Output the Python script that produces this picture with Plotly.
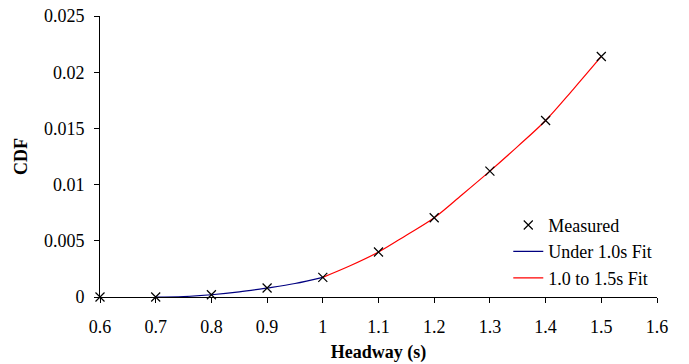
import plotly.graph_objects as go

# Measured data
headway = [0.6, 0.7, 0.8, 0.9, 1.0, 1.1, 1.2, 1.3, 1.4, 1.5]
cdf_measured = [0.0, 0.0, 0.0002, 0.0008, 0.00175, 0.0040, 0.00705, 0.0112, 0.0157, 0.0214]

# Fit curves
fit1_x = [0.7, 0.75, 0.8, 0.85, 0.9, 0.95, 1.0]
fit1_y = [0.0, 0.00004, 0.0002, 0.00045, 0.0008, 0.0012, 0.00175]
fit2_x = [1.0, 1.05, 1.1, 1.15, 1.2, 1.25, 1.3, 1.35, 1.4, 1.45, 1.5]
fit2_y = [0.00175, 0.0028, 0.0040, 0.0055, 0.00705, 0.0091, 0.0112, 0.0134, 0.0157, 0.0185, 0.0214]

x_ticks = [0.6, 0.7, 0.8, 0.9, 1.0, 1.1, 1.2, 1.3, 1.4, 1.5, 1.6]
x_tick_labels = ["0.6", "0.7", "0.8", "0.9", "1", "1.1", "1.2", "1.3", "1.4", "1.5", "1.6"]
y_ticks = [0, 0.005, 0.01, 0.015, 0.02, 0.025]
y_tick_labels = ["0", "0.005", "0.01", "0.015", "0.02", "0.025"]

FONT = "Liberation Serif, Times New Roman, serif"

fig = go.Figure()
fig.add_trace(go.Scatter(
    x=fit1_x, y=fit1_y, mode="lines", name="Under 1.0s Fit",
    line=dict(color="#000080", width=1.2, shape="spline"), legendrank=2,
))
fig.add_trace(go.Scatter(
    x=fit2_x, y=fit2_y, mode="lines", name="1.0 to 1.5s Fit",
    line=dict(color="#FF0000", width=1.2, shape="spline"), legendrank=3,
))
fig.add_trace(go.Scatter(
    x=headway, y=cdf_measured, mode="markers", name="Measured",
    marker=dict(symbol="x-thin", size=9, line=dict(color="black", width=1.2), color="black"),
    cliponaxis=False, legendrank=1,
))

fig.update_layout(
    width=689, height=364,
    margin=dict(l=100, r=32, t=16, b=67),
    paper_bgcolor="white", plot_bgcolor="white",
    font=dict(family=FONT, size=18, color="black"),
    showlegend=True,
    legend=dict(
        x=0.733, y=0.321, xanchor="left", yanchor="top",
        bgcolor="rgba(0,0,0,0)", font=dict(family=FONT, size=18),
        traceorder="normal", tracegroupgap=0,
    ),
    xaxis=dict(
        range=[0.6, 1.6], tickvals=x_ticks, ticktext=x_tick_labels,
        showline=True, linecolor="black", linewidth=1,
        ticks="outside", ticklen=5, tickcolor="black",
        showgrid=False, zeroline=False, automargin=False,
        ticklabelstandoff=8,
        tickfont=dict(family=FONT, size=18),
        title=dict(text="<b>Headway (s)</b>", font=dict(family=FONT, size=18), standoff=9),
    ),
    yaxis=dict(
        range=[0, 0.025], tickvals=y_ticks, ticktext=y_tick_labels,
        showline=True, linecolor="black", linewidth=1,
        ticks="outside", ticklen=5, tickcolor="black",
        showgrid=False, zeroline=False, automargin=False,
        ticklabelstandoff=6,
        tickfont=dict(family=FONT, size=18),
        title=dict(text="<b>CDF</b>", font=dict(family=FONT, size=18), standoff=11),
    ),
)

fig.write_html(
    "out.html",
    config={"displayModeBar": False},
    post_script="document.body.style.margin='0';document.body.style.overflow='hidden';",
)
